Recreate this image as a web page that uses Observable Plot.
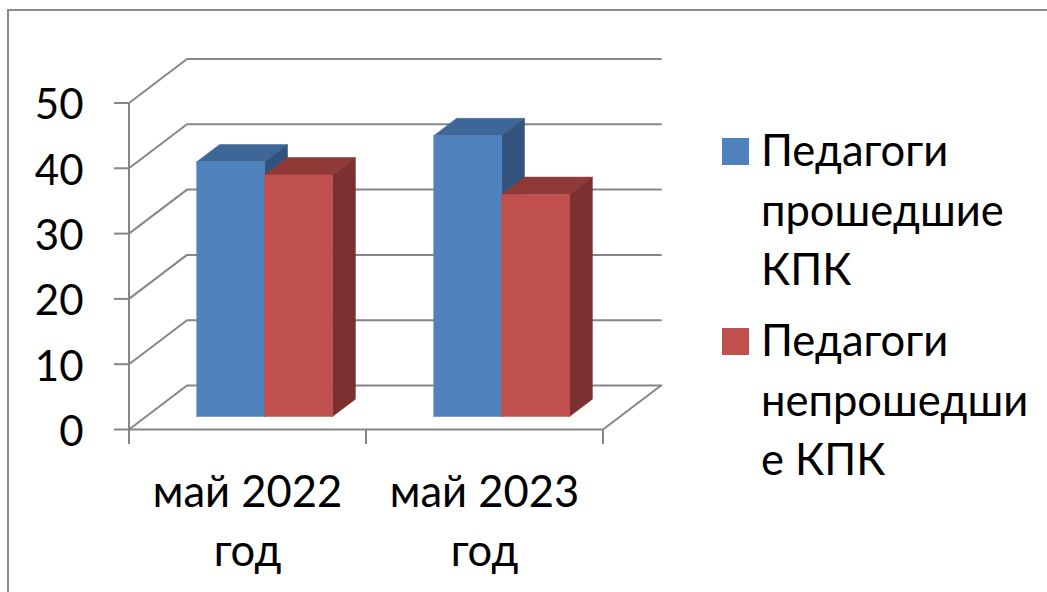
<!DOCTYPE html>
<html><head><meta charset="utf-8">
<script src="https://cdn.jsdelivr.net/npm/d3@7"></script>
<script src="https://cdn.jsdelivr.net/npm/@observablehq/plot@0.6"></script>
<style>
html,body{margin:0;padding:0;background:#fff;overflow:hidden}
#wrap{position:relative;width:1047px;height:592px;overflow:hidden;font-family:Lato,"Open Sans",sans-serif}
#frame{position:absolute;left:7px;top:9px;right:-5px;bottom:-5px;border-left:2px solid #8a8a8a;border-top:2px solid #8a8a8a}
#chart{position:absolute;left:0;top:0}
#legend{position:absolute;left:722px;top:0;width:325px;color:#000;font-size:43.5px;line-height:59.5px}
.item{position:absolute;left:0;display:flex}
.sw{width:27px;height:27px;margin-top:18px;margin-right:12px;flex:none}
</style></head><body>
<div id="wrap"><div id="frame"></div><div id="chart"></div><div id="legend"></div></div>
<script>
const categories = ["май 2022\nгод", "май 2023\nгод"];
const seriesNames = ["Педагоги\nпрошедшие\nКПК", "Педагоги\nнепрошедши\nе КПК"];
const passed = [39, 43];
const notPassed = [37, 34];
const yTicks = [0, 10, 20, 30, 40, 50];
const xBoundaries = [0, 1, 2];

const frontColors = ["#4F81BD", "#C0504D"];
const topColors = ["#3E6696", "#903A38"];
const sideColors = ["#31537D", "#7C302F"];
const gridColor = "#868686";

// oblique projection of the depth axis, in scale units
const depthX = 0.2447, depthY = 6.74;
const depthFront = 0.295, depthBack = 0.69;
const gap = 0.2135, barWidth = 0.2865;
const proj = (x, v, d) => ({x: x + d * depthX, y: v + d * depthY});

const marks = [];
const gridLine = pts => Plot.line(pts, {x: "x", y: "y", stroke: gridColor, strokeWidth: 2});

// wall and floor
for (const v of yTicks) {
  marks.push(gridLine([proj(0, v, 0), proj(0, v, 1), proj(2, v, 1)]));
}
marks.push(gridLine([proj(2, 0, 0), proj(2, 0, 1)]));
marks.push(gridLine([proj(0, 0, 0), proj(2, 0, 0)]));
marks.push(Plot.ruleX([0], {y1: 0, y2: 50, stroke: gridColor, strokeWidth: 2}));

// bars
const face = (pts, fill) => Plot.line([...pts, pts[0]], {x: "x", y: "y", fill, stroke: fill, strokeWidth: 0.5});
categories.forEach((_, c) => {
  [passed, notPassed].forEach((series, s) => {
    const v = series[c];
    const x0 = c + gap + s * barWidth, x1 = x0 + barWidth;
    marks.push(face([proj(x0, v, depthFront), proj(x1, v, depthFront), proj(x1, v, depthBack), proj(x0, v, depthBack)], topColors[s]));
    marks.push(face([proj(x1, 0, depthFront), proj(x1, v, depthFront), proj(x1, v, depthBack), proj(x1, 0, depthBack)], sideColors[s]));
    marks.push(face([proj(x0, 0, depthFront), proj(x1, 0, depthFront), proj(x1, v, depthFront), proj(x0, v, depthFront)], frontColors[s]));
  });
});

// axes
marks.push(Plot.axisY(yTicks, {anchor: "left", tickSize: 14, stroke: gridColor, strokeWidth: 2, tickFormat: () => "", label: null}));
marks.push(Plot.text(yTicks, {
  y: d => d, text: d => String(d), frameAnchor: "left", textAnchor: "end",
  dx: -45, dy: 3, fill: "#000", fontSize: 42
}));
marks.push(Plot.axisX(xBoundaries, {anchor: "bottom", tickSize: 15, stroke: gridColor, strokeWidth: 2, tickFormat: () => "", label: null}));
marks.push(Plot.text(categories, {
  x: (d, i) => i + 0.5, y: () => 0, text: d => d, fill: "#000", fontSize: 43.5,
  lineAnchor: "top", lineHeight: 1.356, dy: 36
}));

const svg = Plot.plot({
  width: 1047, height: 592,
  marginLeft: 128, marginRight: 0, marginTop: 0, marginBottom: 163,
  x: {domain: [0, 2], range: [128.5, 602.5], axis: null},
  y: {domain: [0, 50], range: [429, 102.5], axis: null},
  style: {background: "transparent", fontFamily: 'Lato,"Open Sans",sans-serif', overflow: "visible"},
  marks
});
document.getElementById("chart").append(svg);

const legend = document.getElementById("legend");
const itemTops = [120, 310];
seriesNames.forEach((name, i) => {
  const item = document.createElement("div");
  item.className = "item";
  item.style.top = itemTops[i] + "px";
  const sw = document.createElement("div");
  sw.className = "sw";
  sw.style.background = frontColors[i];
  const label = document.createElement("div");
  label.innerHTML = name.split("\n").join("<br>");
  item.append(sw, label);
  legend.append(item);
});
</script>
</body></html>
